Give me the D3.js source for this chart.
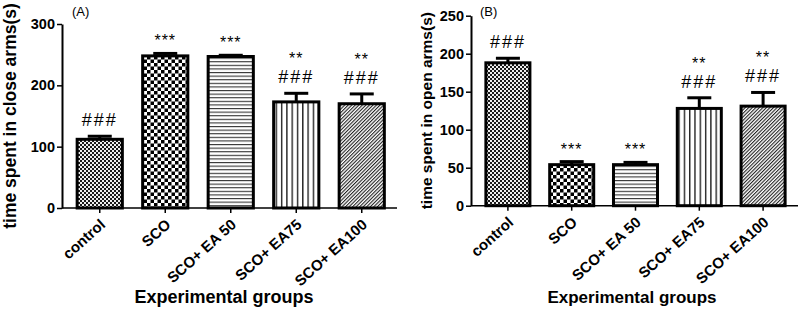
<!DOCTYPE html>
<html>
<head>
<meta charset="utf-8">
<script src="https://d3js.org/d3.v7.min.js"></script>
<style>
  body { margin: 0; background: #fff; }
  svg { display: block; font-family: "Liberation Sans", Arial, sans-serif; }
</style>
</head>
<body>
<svg id="svg-epm"></svg>
<script>
var width = 800,
    height = 311;

// values (mean, upper error bar)
var groups = ['control', 'SCO', 'SCO+ EA 50', 'SCO+ EA75', 'SCO+ EA100'];
var closeMeans = [112, 248, 247, 173, 170];
var closeErr = [5, 4, 2, 14, 16];
var openMeans = [188, 54, 54, 128, 131];
var openErr = [6, 4, 3, 14, 18];
var closeStars = ['', '***', '***', '**', '**'];
var closeHash = ['###', '', '', '###', '###'];
var openStars = ['', '***', '***', '**', '**'];
var openHash = ['###', '', '', '###', '###'];
var closeTicks = [0, 100, 200, 300];
var openTicks = [0, 50, 100, 150, 200, 250];

var svg = d3.select('#svg-epm')
  .attr('width', width)
  .attr('height', height);

makePatterns();

drawPanel({
  tag: '(A)', tagX: 72,
  left: 62, right: 397, bandStart: 67, bandEnd: 394.5,
  top: 24, bottom: 208, max: 300, ticks: closeTicks,
  means: closeMeans, err: closeErr, stars: closeStars, hash: closeHash,
  ylabel: 'time spent in close arms(s)', ylabelX: 16, ylabelSize: 17.5,
  xlabelX: 224, xlabelSize: 18
});

drawPanel({
  tag: '(B)', tagX: 480,
  left: 471, right: 798, bandStart: 476, bandEnd: 795,
  top: 15.7, bottom: 205.7, max: 250, ticks: openTicks,
  means: openMeans, err: openErr, stars: openStars, hash: openHash,
  ylabel: 'time spent in open arms(s)', ylabelX: 432, ylabelSize: 15.5,
  xlabelX: 632, xlabelSize: 17
});

function makePatterns() {
  var defs = svg.append('defs');

  // 0: fine checker (control)
  var p0 = defs.append('pattern').attr('id', 'pat0')
    .attr('patternUnits', 'userSpaceOnUse').attr('width', 4).attr('height', 4);
  p0.append('rect').attr('width', 4).attr('height', 4).attr('fill', '#eee');
  p0.append('rect').attr('width', 2).attr('height', 2).attr('fill', '#1a1a1a');
  p0.append('rect').attr('x', 2).attr('y', 2).attr('width', 2).attr('height', 2).attr('fill', '#1a1a1a');

  // 1: coarse checker (SCO)
  var p1 = defs.append('pattern').attr('id', 'pat1')
    .attr('patternUnits', 'userSpaceOnUse').attr('width', 7).attr('height', 7);
  p1.append('rect').attr('width', 7).attr('height', 7).attr('fill', '#fff');
  p1.append('rect').attr('width', 3.5).attr('height', 3.5).attr('fill', '#000');
  p1.append('rect').attr('x', 3.5).attr('y', 3.5).attr('width', 3.5).attr('height', 3.5).attr('fill', '#000');

  // 2: horizontal lines (SCO+ EA 50)
  var p2 = defs.append('pattern').attr('id', 'pat2')
    .attr('patternUnits', 'userSpaceOnUse').attr('width', 4).attr('height', 3.6);
  p2.append('rect').attr('width', 4).attr('height', 3.6).attr('fill', '#fff');
  p2.append('rect').attr('width', 4).attr('height', 1.1).attr('fill', '#333');

  // 3: vertical lines (SCO+ EA75)
  var p3 = defs.append('pattern').attr('id', 'pat3')
    .attr('patternUnits', 'userSpaceOnUse').attr('width', 5.3).attr('height', 4);
  p3.append('rect').attr('width', 5.3).attr('height', 4).attr('fill', '#fff');
  p3.append('rect').attr('width', 1.4).attr('height', 4).attr('fill', '#222');

  // 4: diagonal lines (SCO+ EA100)
  var p4 = defs.append('pattern').attr('id', 'pat4')
    .attr('patternUnits', 'userSpaceOnUse').attr('width', 2.5).attr('height', 4)
    .attr('patternTransform', 'rotate(45)');
  p4.append('rect').attr('width', 2.5).attr('height', 4).attr('fill', '#fff');
  p4.append('rect').attr('width', 1.1).attr('height', 4).attr('fill', '#222');
}

function drawPanel(o) {
  var g = svg.append('g');

  var x = d3.scaleBand()
    .domain(groups)
    .range([o.bandStart, o.bandEnd])
    .paddingInner(0.31)
    .paddingOuter(0.155);

  var y = d3.scaleLinear()
    .domain([0, o.max])
    .range([o.bottom, o.top]);

  // y axis
  var yAxis = g.append('g')
    .attr('transform', 'translate(' + o.left + ',0)')
    .call(d3.axisLeft(y).tickValues(o.ticks).tickSize(5).tickSizeOuter(0).tickPadding(2));
  yAxis.select('.domain').attr('stroke-width', 2);
  yAxis.selectAll('.tick line').attr('stroke-width', 1.5);
  yAxis.selectAll('.tick text')
    .attr('font-family', '"Liberation Sans", Arial, sans-serif')
    .attr('font-size', 14.5).attr('font-weight', 'bold').attr('fill', '#000');

  // x axis
  var xAxis = g.append('g')
    .attr('transform', 'translate(0,' + o.bottom + ')')
    .call(d3.axisBottom(x).tickSize(5).tickSizeOuter(0));
  xAxis.select('.domain').remove();
  xAxis.selectAll('.tick line').attr('stroke-width', 1.5);
  xAxis.selectAll('.tick text')
    .attr('font-family', '"Liberation Sans", Arial, sans-serif')
    .attr('font-size', 15).attr('font-weight', 'bold').attr('fill', '#000')
    .attr('text-anchor', 'end')
    .attr('dy', '0.35em')
    .attr('transform', 'translate(3,14) rotate(-42)')
    .attr('y', 0);
  g.append('line')
    .attr('x1', o.left).attr('x2', o.right)
    .attr('y1', o.bottom).attr('y2', o.bottom)
    .attr('stroke', '#000').attr('stroke-width', 1.5);

  var data = groups.map(function(name, i) {
    return { name: name, i: i, mean: o.means[i], err: o.err[i], stars: o.stars[i], hash: o.hash[i] };
  });

  // error bars (upper only)
  var eb = g.selectAll('.err').data(data).enter().append('g');
  eb.append('line')
    .attr('x1', function(d) { return x(d.name) + x.bandwidth() / 2; })
    .attr('x2', function(d) { return x(d.name) + x.bandwidth() / 2; })
    .attr('y1', function(d) { return y(d.mean); })
    .attr('y2', function(d) { return y(d.mean + d.err); })
    .attr('stroke', '#000').attr('stroke-width', 3);
  eb.append('line')
    .attr('x1', function(d) { return x(d.name) + x.bandwidth() / 2 - 12; })
    .attr('x2', function(d) { return x(d.name) + x.bandwidth() / 2 + 12; })
    .attr('y1', function(d) { return y(d.mean + d.err); })
    .attr('y2', function(d) { return y(d.mean + d.err); })
    .attr('stroke', '#000').attr('stroke-width', 3);

  // bars
  g.selectAll('.bar').data(data).enter().append('rect')
    .attr('x', function(d) { return x(d.name); })
    .attr('width', x.bandwidth())
    .attr('y', function(d) { return y(d.mean); })
    .attr('height', function(d) { return o.bottom - y(d.mean); })
    .attr('fill', function(d) { return 'url(#pat' + d.i + ')'; })
    .attr('stroke', '#000')
    .attr('stroke-width', 3);

  // significance marks
  data.forEach(function(d) {
    var cx = x(d.name) + x.bandwidth() / 2;
    var capY = y(d.mean + d.err);
    var base = capY - 10;
    if (d.hash) {
      g.append('text')
        .attr('x', cx).attr('y', base)
        .attr('text-anchor', 'middle')
        .attr('font-size', 18).attr('letter-spacing', 2)
        .text(d.hash);
      base = base - 19;
    } else {
      base = capY - 7;
    }
    if (d.stars) {
      g.append('text')
        .attr('x', cx).attr('y', base)
        .attr('text-anchor', 'middle')
        .attr('font-size', 16).attr('letter-spacing', 1)
        .text(d.stars);
    }
  });

  // labels
  g.append('text')
    .attr('transform', 'translate(' + o.ylabelX + ',' + ((o.top + o.bottom) / 2) + ') rotate(-90)')
    .attr('text-anchor', 'middle')
    .attr('font-weight', 'bold')
    .attr('font-size', o.ylabelSize)
    .text(o.ylabel);

  g.append('text')
    .attr('x', o.xlabelX).attr('y', 303)
    .attr('text-anchor', 'middle')
    .attr('font-weight', 'bold')
    .attr('font-size', o.xlabelSize)
    .text('Experimental groups');

  g.append('text')
    .attr('x', o.tagX).attr('y', 16)
    .attr('font-size', 13)
    .text(o.tag);
}
</script>
</body>
</html>
